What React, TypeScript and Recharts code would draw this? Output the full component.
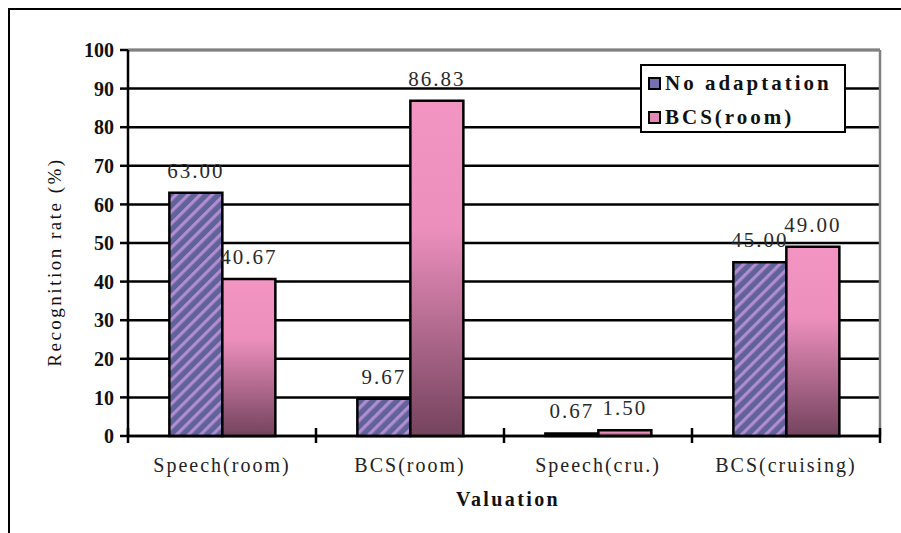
import { BarChart, Bar, XAxis, YAxis, CartesianGrid, ReferenceLine, LabelList, Legend, Label } from "recharts";

// Recognition rate per valuation setting, two adaptation schemes
const categories = ["Speech(room)", "BCS(room)", "Speech(cru.)", "BCS(cruising)"];
const noAdaptation = [63.0, 9.67, 0.67, 45.0];
const bcsRoom = [40.67, 86.83, 1.5, 49.0];
const seriesNames = ["No adaptation", "BCS(room)"];
const yTicks = [0, 10, 20, 30, 40, 50, 60, 70, 80, 90, 100];

const CHART_W = 891;
const CHART_H = 523;
const MARGIN = { top: 40, right: 20, bottom: 0, left: 0 };
const Y_AXIS_W = 118;
const R_AXIS_W = 1;
const X_AXIS_H = 97;
const PLOT_W = CHART_W - MARGIN.left - MARGIN.right - Y_AXIS_W - R_AXIS_W;
const BAND = PLOT_W / categories.length;

const SERIF = '"Liberation Serif", "DejaVu Serif", serif';
const LINE_W = 2.5;

const data = categories.map((name, i) => ({
  name,
  noAdaptation: noAdaptation[i],
  bcsRoom: bcsRoom[i],
}));

const swatchColors = ["#7470B4", "#E287B6"];

// category label plus the boundary ticks that cross the x axis
const CategoryTick = (props: any) => {
  const { x, y, payload, index } = props;
  const half = BAND / 2;
  return (
    <g>
      <line x1={x - half} x2={x - half} y1={y - 8} y2={y + 7} stroke="#000" strokeWidth={LINE_W} />
      {index === categories.length - 1 && (
        <line x1={x + half} x2={x + half} y1={y - 8} y2={y + 7} stroke="#000" strokeWidth={LINE_W} />
      )}
      <text
        x={x}
        y={y + 36}
        textAnchor="middle"
        fontFamily={SERIF}
        fontSize={20}
        letterSpacing={2}
        fill="#222"
      >
        {payload.value}
      </text>
    </g>
  );
};

const YTitle = (props: any) => {
  const { x, y, height } = props.viewBox;
  const cx = x + 44;
  const cy = y + height / 2 + 19;
  return (
    <text
      x={cx}
      y={cy}
      transform={`rotate(-90 ${cx} ${cy})`}
      textAnchor="middle"
      dominantBaseline="central"
      fontFamily={SERIF}
      fontSize={19}
      letterSpacing={2.5}
      fill="#111"
    >
      Recognition rate (%)
    </text>
  );
};

const XTitle = (props: any) => {
  const { x, y, width } = props.viewBox;
  return (
    <text
      x={x + width / 2 + 4}
      y={y + 70}
      textAnchor="middle"
      fontFamily={SERIF}
      fontWeight="bold"
      fontSize={20}
      letterSpacing={2.4}
      fill="#111"
    >
      Valuation
    </text>
  );
};

const LegendBox = () => (
  <div
    style={{
      border: "2px solid #000",
      background: "#fff",
      width: 206,
      height: 69,
      paddingLeft: 6,
      boxSizing: "border-box",
    }}
  >
    {seriesNames.map((name, i) => (
      <div key={name} style={{ display: "flex", alignItems: "center", height: 34 }}>
        <span
          style={{
            display: "inline-block",
            width: 9,
            height: 9,
            border: "2px solid #000",
            background: swatchColors[i],
            marginRight: 4,
          }}
        />
        <span
          style={{
            fontFamily: SERIF,
            fontWeight: "bold",
            fontSize: 21,
            letterSpacing: 3,
            color: "#111",
            lineHeight: "34px",
            whiteSpace: "nowrap",
          }}
        >
          {name}
        </span>
      </div>
    ))}
  </div>
);

const fmt = (v: any) => Number(v).toFixed(2);

const labelStyle = {
  fontFamily: SERIF,
  fontSize: 21,
  letterSpacing: 2,
  fill: "#2a2a2a",
};

export default function App() {
  // frame only shows its top and left edges; the rest runs off the page
  return (
    <div
      style={{
        position: "fixed",
        left: 8,
        top: 8,
        width: 960,
        height: 600,
        borderTop: "2px solid #000",
        borderLeft: "2px solid #000",
        boxSizing: "border-box",
        background: "#fff",
      }}
    >
      <div style={{ position: "relative", width: CHART_W, height: CHART_H }}>
        <BarChart
          width={CHART_W}
          height={CHART_H}
          data={data}
          margin={MARGIN}
          barCategoryGap="22%"
          barGap={0}
        >
          <defs>
            <pattern id="stripes" patternUnits="userSpaceOnUse" width={8.5} height={8.5} patternTransform="rotate(45)">
              <rect width={8.5} height={8.5} fill="#62629A" />
              <rect x={0} width={3.2} height={8.5} fill="#B08DD0" />
            </pattern>
            <linearGradient id="pinkFade" x1="0" y1="0" x2="0" y2="1">
              <stop offset="0" stopColor="#F295C2" />
              <stop offset="0.38" stopColor="#EC8FBD" />
              <stop offset="1" stopColor="#74435D" />
            </linearGradient>
          </defs>
          <CartesianGrid vertical={false} stroke="#000" strokeWidth={LINE_W} />
          <XAxis
            dataKey="name"
            height={X_AXIS_H}
            interval={0}
            tickLine={false}
            tickSize={0}
            tickMargin={0}
            tick={<CategoryTick />}
            axisLine={{ stroke: "#000", strokeWidth: LINE_W }}
          >
            <Label content={<XTitle />} />
          </XAxis>
          <YAxis
            width={Y_AXIS_W}
            domain={[0, 100]}
            ticks={yTicks}
            interval={0}
            tickSize={8}
            tickMargin={6}
            tickLine={{ stroke: "#000", strokeWidth: LINE_W }}
            axisLine={{ stroke: "#000", strokeWidth: LINE_W }}
            tick={{ fontFamily: SERIF, fontWeight: "bold", fontSize: 20, fill: "#111" }}
          >
            <Label content={<YTitle />} />
          </YAxis>
          <YAxis
            yAxisId="r"
            orientation="right"
            width={R_AXIS_W}
            domain={[0, 100]}
            tick={false}
            tickLine={false}
            axisLine={{ stroke: "#808080", strokeWidth: LINE_W }}
          />
          <ReferenceLine y={100} stroke="#808080" strokeWidth={LINE_W} />
          <Legend
            layout="vertical"
            align="center"
            verticalAlign="middle"
            content={<LegendBox />}
            wrapperStyle={{ left: 630, top: 54, width: 210 }}
          />
          <Bar
            dataKey="noAdaptation"
            name={seriesNames[0]}
            fill="url(#stripes)"
            stroke="#000"
            strokeWidth={LINE_W}
            isAnimationActive={false}
          >
            <LabelList dataKey="noAdaptation" position="top" offset={15} formatter={fmt} style={labelStyle} />
          </Bar>
          <Bar
            dataKey="bcsRoom"
            name={seriesNames[1]}
            fill="url(#pinkFade)"
            stroke="#000"
            strokeWidth={LINE_W}
            isAnimationActive={false}
          >
            <LabelList dataKey="bcsRoom" position="top" offset={15} formatter={fmt} style={labelStyle} />
          </Bar>
        </BarChart>
      </div>
    </div>
  );
}
